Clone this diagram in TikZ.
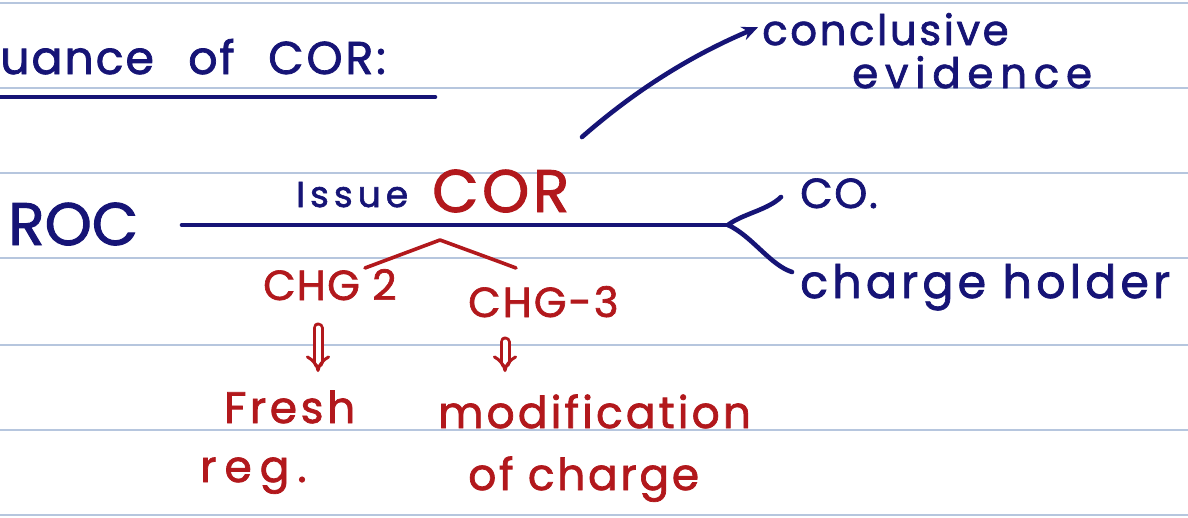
\documentclass[tikz,border=0pt]{standalone}
\usepackage{fontspec}
\setmainfont{Poppins}[FakeBold=1.6]
\usetikzlibrary{arrows.meta}
\definecolor{ink}{RGB}{22,20,118}
\definecolor{redink}{RGB}{178,24,28}
\definecolor{rule}{RGB}{182,198,222}
\newcommand{\hwfont}[2]{\fontsize{#1}{#1}\selectfont\addfontfeature{LetterSpace=#2}}
\tikzset{
  txt/.style={inner sep=0pt, anchor=base west},
  navy/.style={txt, text=ink},
  redt/.style={txt, text=redink},
  pen/.style={draw=ink, line width=4.6pt, line cap=round, line join=round},
  redpen/.style={draw=redink, line width=3.6pt, line cap=round, line join=round},
  ruling/.style={draw=rule, line width=1.6pt},
  dbl/.style={draw=redink, line width=3pt, double=white, double distance=5pt, -{Implies[length=9pt]}, line cap=round}
}
\begin{document}
\begin{tikzpicture}[x=1pt,y=-1pt]
\useasboundingbox (0,0) rectangle (1188,517);
\fill[white] (0,0) rectangle (1188,517);
% ruled lines
\foreach \yy in {3,88,173,258,345,430,515} \draw[ruling] (0,\yy) -- (1188,\yy);

% title
\node[navy, font=\hwfont{46}{4}] (t1) at (0,74) {uance};
\node[navy, font=\hwfont{46}{4}] (t2) at (188,74) {of};
\node[navy, font=\hwfont{46}{6}] (t3) at (268,74) {COR:};
\coordinate (ul1) at (0,97);
\coordinate (ul2) at (435,97);
\draw[pen] (ul1) -- (ul2);

% ROC and main line
\node[navy, font=\hwfont{60}{0}] (roc) at (8,245) {ROC};
\coordinate (lstart) at (182,225);
\coordinate (junc) at (728,225);
\draw[pen] (lstart) -- (junc);
\node[navy, font=\hwfont{36}{14}] (issue) at (296,207) {Issue};
\node[redt, font=\hwfont{60}{6}] (cor) at (432,212) {COR};

% arrow to conclusive evidence
\node[navy, font=\hwfont{42}{6}] (concl) at (762,45) {conclusive};
\node[navy, font=\hwfont{42}{16}] (evid) at (852,88) {evidence};
\coordinate (astart) at (582,137);
\draw[pen, -{Stealth[length=16pt,width=14pt]}] (astart) .. controls (630,95) and (685,58) .. ([xshift=-4pt,yshift=2pt]concl.west);

% branches
\node[navy, font=\hwfont{42}{4}] (co) at (800,208) {CO.};
\node[navy, font=\hwfont{46}{9}] (holder) at (800,298) {charge holder};
\coordinate (coend) at (781,197);
\coordinate (hend) at (792,272);
\draw[pen] (junc) .. controls (742,214) and (768,210) .. (coend);
\draw[pen] (junc) .. controls (752,236) and (770,265) .. (hend);

% red part
\node[redt, font=\hwfont{42}{3}] (chg2) at (263,300) {CHG 2};
\node[redt, font=\hwfont{42}{5}] (chg3) at (468,317) {CHG-3};
\coordinate (capl) at (365,268);
\coordinate (apex) at (440,240);
\coordinate (capr) at (516,268);
\draw[redpen] (capl) -- (apex) -- (500,262) -- (capr);

\node[redt, font=\hwfont{44}{8}] (fresh) at (224,423) {Fresh};
\node[redt, font=\hwfont{44}{18}] (reg) at (200,482) {reg.};
\node[redt, font=\hwfont{44}{7}] (modif) at (438,428) {modification};
\node[redt, font=\hwfont{44}{6}] (ofch) at (468,490) {of charge};

\coordinate (d1s) at (318,328);
\coordinate (d1e) at (318,372);
\coordinate (d2s) at (505,342);
\coordinate (d2e) at (505,372);
\draw[dbl] (d1s) -- (d1e);
\draw[dbl] (d2s) -- (d2e);
\end{tikzpicture}
\end{document}
